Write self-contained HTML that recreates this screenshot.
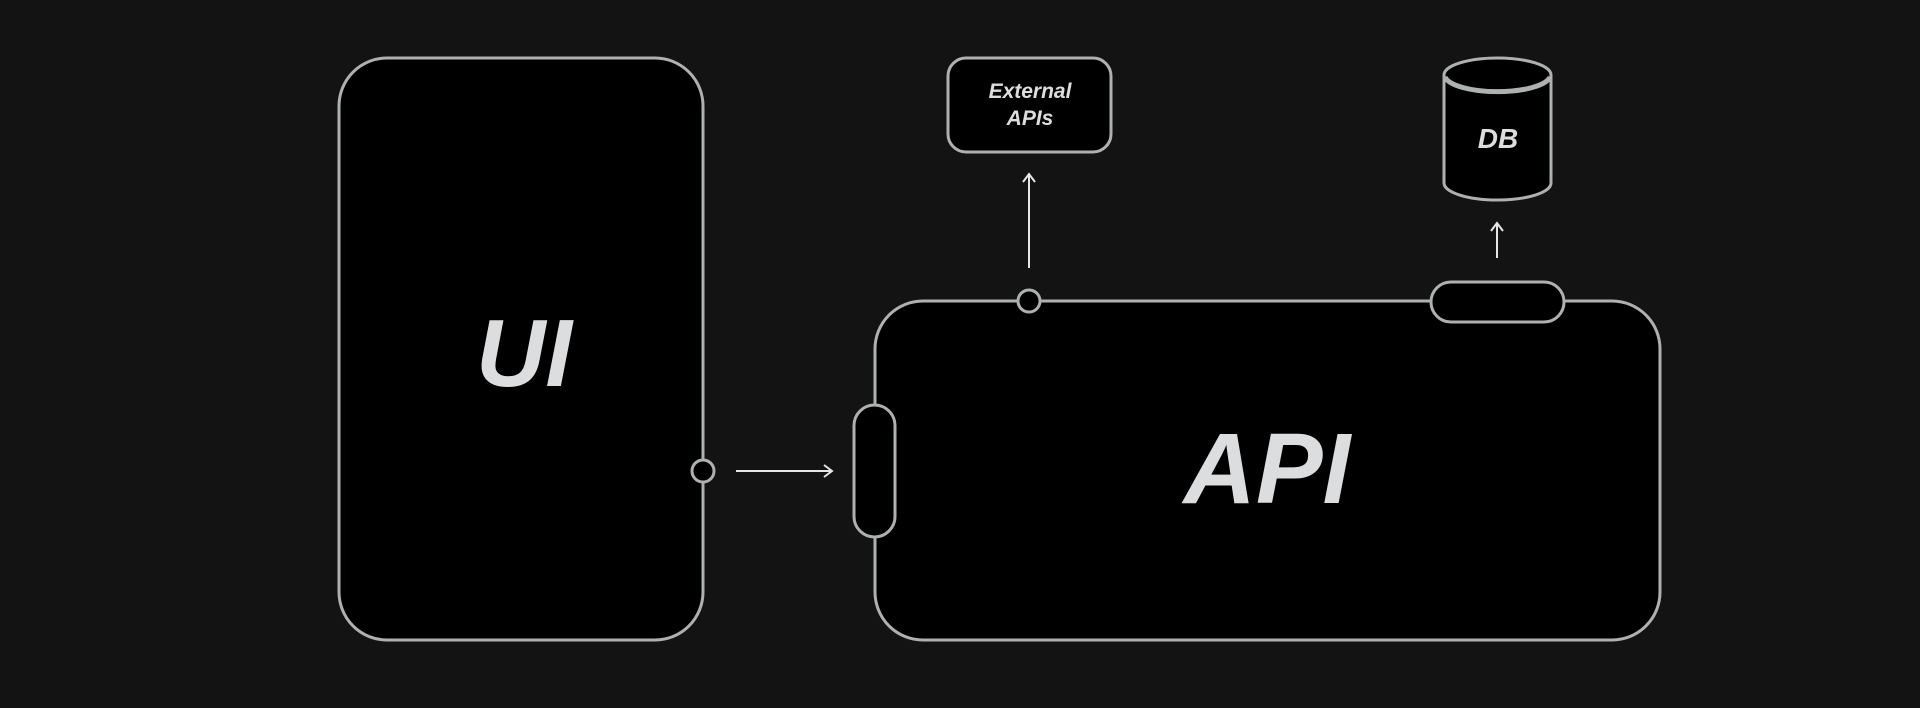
<!DOCTYPE html>
<html><head><style>
html,body{margin:0;padding:0;background:#131313;}
svg{display:block}
text{font-family:"Liberation Sans",sans-serif;font-weight:bold;font-style:italic;fill:#dcdddf;text-anchor:middle;}
</style></head><body>
<svg width="1920" height="708" viewBox="0 0 1920 708">
<g stroke="#aeb1b1" stroke-width="3" fill="#000">
<rect x="339" y="58" width="364" height="582" rx="48"/>
<rect x="875" y="301" width="785" height="339" rx="48"/>
<rect x="948" y="58" width="163" height="94" rx="18"/>
<path d="M1444 75 V183 A53.5 17 0 0 0 1551 183 V75"/>
<ellipse cx="1497.5" cy="75" rx="53.5" ry="17"/>
<path d="M1445 77 A53 17 0 0 0 1550 77" fill="none" stroke-width="5"/>
<circle cx="703" cy="471" r="11"/>
<circle cx="1029" cy="301" r="11"/>
<rect x="854" y="405" width="41" height="132" rx="20.5"/>
<rect x="1431" y="282" width="133" height="40" rx="20"/>
</g>
<g stroke="#e6e6e6" stroke-width="2" fill="none">
<path d="M736 471 H831 M824 465 L832 471 L824 477"/>
<path d="M1029 268 V175 M1023 182 L1029 174 L1035 182"/>
<path d="M1497 258 V224 M1491 231 L1497 223 L1503 231"/>
</g>
<text x="524" y="386" font-size="96">UI</text>
<text x="1267" y="503" font-size="100">API</text>
<text x="1030" y="98" font-size="21">External</text>
<text x="1030" y="125" font-size="21">APIs</text>
<text x="1498" y="148" font-size="28">DB</text>
</svg>
</body></html>
